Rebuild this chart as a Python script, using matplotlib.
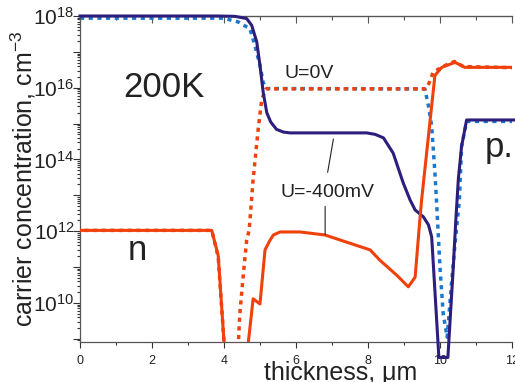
import matplotlib
matplotlib.use("Agg")
import matplotlib.pyplot as plt
from matplotlib.ticker import LogLocator, FuncFormatter, MultipleLocator, NullFormatter
import numpy as np

plt.rcParams['font.family'] = ['Liberation Sans', 'DejaVu Sans']
plt.rcParams['mathtext.fontset'] = 'custom'
plt.rcParams['mathtext.rm'] = 'Liberation Sans'

# U=-400mV, electrons (solid navy)
x_n400 = [0, 3.8, 4.3, 4.63, 4.77, 4.91, 5.0, 5.09, 5.19, 5.3, 5.46, 5.65, 5.83, 7.0, 7.96,
          8.2, 8.43, 8.7, 8.98, 9.17, 9.31, 9.54, 9.68, 9.77, 9.97, 10.22, 10.37, 10.44,
          10.51, 10.6, 10.74, 12.1]
n_400 = [1.0e18, 1.0e18, 9.8e17, 8.5e17, 5.5e17, 1.9e17, 4.2e16, 7.4e15, 2.0e15, 1.1e15,
         6.9e14, 5.8e14, 5.5e14, 5.5e14, 5.5e14, 5.0e14, 4.0e14, 1.5e14, 2.2e13, 7.4e12,
         3.9e12, 2.5e12, 1.5e12, 6.9e11, 3e8, 3e8, 1.0e11, 2.0e12, 2.8e13, 2.3e14, 1.26e15,
         1.26e15]

# U=0V, electrons (dotted blue)
x_n0 = [0, 3.98, 4.4, 4.72, 4.86, 5.0, 5.09, 5.17, 9.58, 9.68, 9.77, 9.86, 9.91, 10.0,
        10.09, 10.2, 10.32, 10.42, 10.54, 10.6, 10.74, 12.1]
n_0 = [8.7e17, 8.7e17, 6.8e17, 4.4e17, 1.5e17, 4.2e16, 1.4e16, 9.5e15, 9.3e15, 3.1e15,
       8.5e14, 4.2e13, 5.4e12, 1.0e11, 4.9e9, 1.1e9, 3.4e10, 4.6e11, 7.4e12, 2.3e14,
       1.15e15, 1.15e15]

# U=0V, holes (dotted orange)
x_p0 = [0, 3.66, 3.84, 4.03, 4.38, 4.44, 4.54, 4.63, 4.7, 4.81, 4.95, 5.05, 5.17, 9.6,
        9.67, 9.81, 10.1, 10.4, 10.65, 12.1]
p_0 = [1.05e12, 1.05e12, 1.9e11, 3e8, 3e8, 4.9e9, 6.5e10, 5.6e11, 1.07e12, 2.8e13,
       6.9e14, 4.8e15, 9.3e15, 9.3e15, 1.15e16, 2.7e16, 4.0e16, 5.4e16, 3.9e16, 3.6e16]

# U=-400mV, holes (solid orange)
x_p400 = [0, 3.66, 3.84, 4.03, 4.63, 4.81, 5.0, 5.14, 5.28, 5.37, 5.56, 6.11, 6.81, 7.5,
          8.06, 8.33, 8.8, 9.12, 9.31, 9.44, 9.49, 9.72, 9.86, 10.05, 10.42, 10.69, 12.1]
p_400 = [1.05e12, 1.05e12, 2.1e11, 3e8, 3e8, 1.3e10, 9.3e9, 3.0e11, 5.6e11, 7.8e11,
         9.5e11, 9.5e11, 7.8e11, 4.6e11, 3.0e11, 1.55e11, 5.9e10, 2.8e10, 5.2e10, 2.0e12,
         7.4e12, 1.07e15, 2.2e16, 3.7e16, 5.1e16, 3.7e16, 3.7e16]

navy = '#2d1e7d'
blue = '#1a78d0'
orange = '#f0400c'

fig = plt.figure(figsize=(5.15, 3.82), dpi=100)
ax = fig.add_axes([0.1553, 0.1047, 0.8388, 0.8534])

ax.plot(x_n0, n_0, color=blue, lw=2.5, ls=(0, (1.2, 1.3)), dash_capstyle='butt', zorder=2)
ax.plot(x_p0, p_0, color=orange, lw=2.5, ls=(1.25, (1.2, 1.3)), dash_capstyle='butt',
        zorder=2)
ax.plot(x_n400, n_400, color=navy, lw=2.2, zorder=3, clip_on=False)
ax.plot(x_p400, p_400, color=orange, lw=2.2, zorder=3)

ax.set_yscale('log')
ax.set_xlim(0, 12)
ax.set_ylim(8.1e8, 1e18)

ax.xaxis.set_major_locator(MultipleLocator(2))
ax.xaxis.set_minor_locator(MultipleLocator(1))
ax.yaxis.set_major_locator(LogLocator(base=10, numticks=30))
ax.yaxis.set_minor_locator(LogLocator(base=10, subs=np.arange(2, 10), numticks=30))
ax.yaxis.set_minor_formatter(NullFormatter())


def ylab(v, pos):
    e = int(round(np.log10(v)))
    if e % 2:
        return ''
    return r'$\mathregular{10^{%d}}$' % e


ax.yaxis.set_major_formatter(FuncFormatter(ylab))

ax.tick_params(axis='x', which='major', direction='out', length=4, width=0.8,
               labelsize=9, pad=5, colors='#333333')
ax.tick_params(axis='x', which='minor', direction='out', length=2.5, width=0.8,
               colors='#333333')
ax.tick_params(axis='y', which='major', direction='out', length=5, width=0.8,
               labelsize=15, pad=-1, colors='#333333')
ax.tick_params(axis='y', which='minor', direction='out', length=2.5, width=0.8,
               colors='#333333')
for lab in ax.get_xticklabels() + ax.get_yticklabels():
    lab.set_color('#222222')

sec = ax.secondary_xaxis('top')
sec.xaxis.set_major_locator(MultipleLocator(2))
sec.xaxis.set_minor_locator(MultipleLocator(1))
sec.tick_params(which='major', direction='in', length=5, width=0.8, labeltop=False,
                colors='#555555')
sec.tick_params(which='minor', direction='in', length=3, width=0.8, colors='#555555')
sec.spines['top'].set_color('#555555')

ax.spines['right'].set_visible(False)
for s in ['left', 'bottom', 'top']:
    ax.spines[s].set_color('#555555')
    ax.spines[s].set_linewidth(0.9)

ax.set_xlabel(u'thickness, \u03bcm', fontsize=18, labelpad=-4, color='#222222')
ax.xaxis.label.set_x(0.604)
ax.set_ylabel(r'carrier concentration, cm$^{\mathregular{-3}}$', fontsize=18,
              color='#222222')
ax.yaxis.set_label_coords(-0.098, 0.5)

ax.text(2.33, 1e16, '200K', fontsize=25, ha='center', va='center', color='#222222')
ax.text(1.33, 10**11.2, 'n', fontsize=25, ha='left', va='baseline', color='#222222')
ax.text(11.25, 10**14.07, 'p.', fontsize=25, ha='left', va='baseline', color='#222222')
ax.text(5.69, 10**16.27, 'U=0V', fontsize=14, ha='left', va='baseline', color='#222222')
ax.text(5.56, 10**12.96, 'U=-400mV', fontsize=14, ha='left', va='baseline',
        color='#222222')
ax.annotate('', xy=(7.04, 10**14.57), xytext=(6.88, 10**13.64),
            arrowprops=dict(arrowstyle='-', color='#222222', lw=0.8, shrinkA=0, shrinkB=0))
ax.annotate('', xy=(6.81, 10**11.9), xytext=(6.81, 10**12.69),
            arrowprops=dict(arrowstyle='-', color='#222222', lw=0.8, shrinkA=0, shrinkB=0))

fig.savefig('out.png', dpi=100)
